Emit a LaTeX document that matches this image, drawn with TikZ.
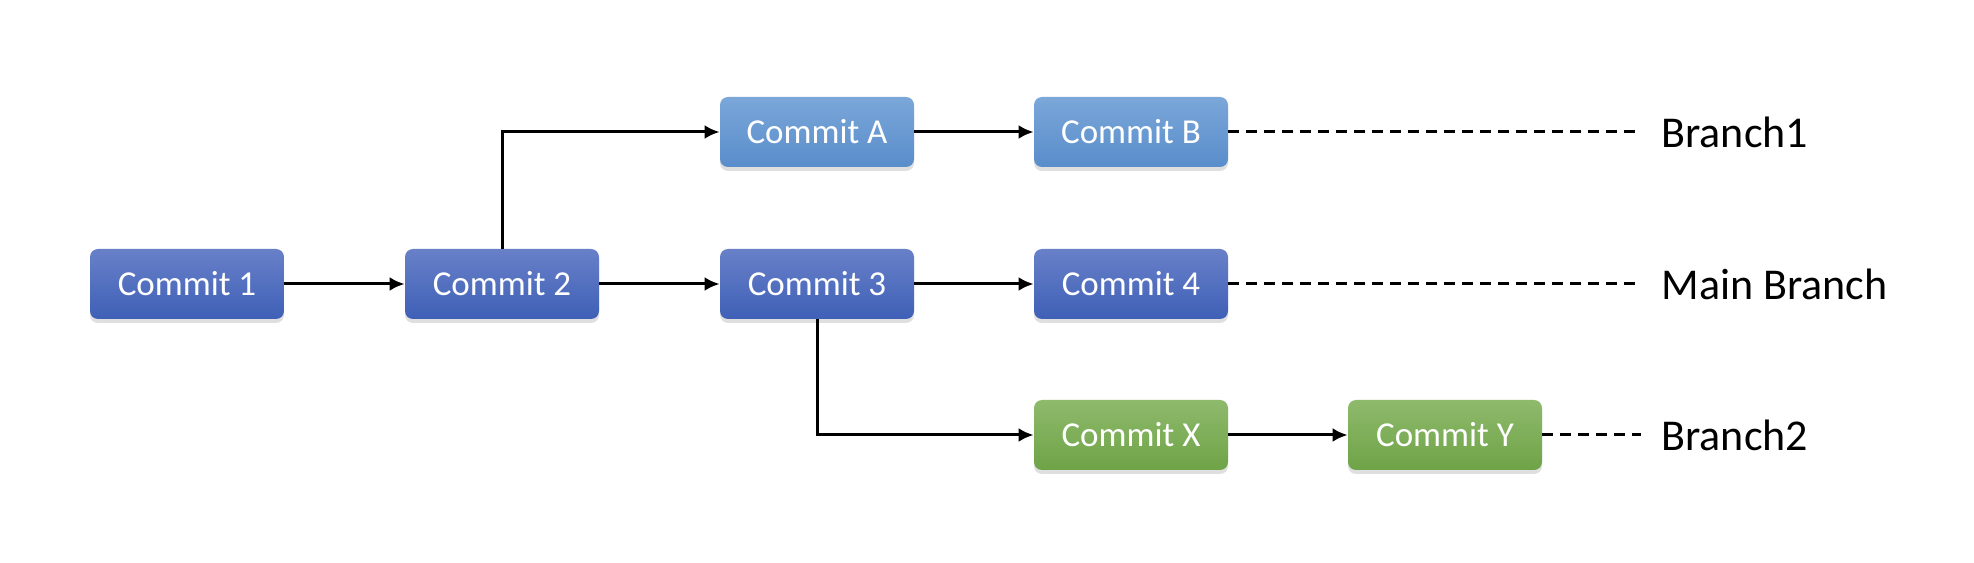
\documentclass[tikz,border=0pt]{standalone}
\usepackage{fontspec}
\setmainfont{Carlito}
\usetikzlibrary{shadows,arrows.meta}
\definecolor{maintop}{RGB}{104,128,200}
\definecolor{mainbot}{RGB}{63,96,183}
\definecolor{bonetop}{RGB}{123,167,217}
\definecolor{bonebot}{RGB}{89,141,203}
\definecolor{btwotop}{RGB}{142,186,108}
\definecolor{btwobot}{RGB}{111,163,71}
\newcommand\mylabel[1]{%
  \fontsize{22}{26}\selectfont%
  #1
}

\begin{document}
\begin{tikzpicture}[x=0.5pt,y=0.5pt]
  \useasboundingbox (0,0) rectangle (1974,562);

  \tikzstyle{commit}=[rounded corners=4pt,minimum width=97pt,minimum height=35pt,inner sep=0pt,text=white,font=\fontsize{17.5}{21}\selectfont,drop shadow={shadow xshift=0pt,shadow yshift=-2pt,opacity=0.25}]
  \tikzstyle{mcommit}=[commit,top color=maintop,bottom color=mainbot]
  \tikzstyle{bcommit}=[commit,top color=bonetop,bottom color=bonebot]
  \tikzstyle{gcommit}=[commit,top color=btwotop,bottom color=btwobot]
  \tikzstyle{link}=[draw,line width=1.5pt,-{Latex[length=7.5pt,width=7pt]}]
  \tikzstyle{tail}=[draw,line width=1.5pt,dash pattern=on 5.5pt off 3.5pt]

  \def \rowa{430}
  \def \rowb{278}
  \def \rowc{127}

  \foreach \name/\x/\text in {c1/187/1, c2/502/2, c3/817/3, c4/1131/4}
    \node[mcommit] (\name) at (\x,\rowb) {Commit \text};
  \foreach \name/\x/\text in {ca/817/A, cb/1131/B}
    \node[bcommit] (\name) at (\x,\rowa) {Commit \text};
  \foreach \name/\x/\text in {cx/1131/X, cy/1445/Y}
    \node[gcommit] (\name) at (\x,\rowc) {Commit \text};

  \node[anchor=west,inner sep=0pt] (b1) at (1661,\rowa) {\mylabel{Branch1}};
  \node[anchor=west,inner sep=0pt] (bm) at (1661,\rowb) {\mylabel{Main Branch}};
  \node[anchor=west,inner sep=0pt] (b2) at (1661,\rowc) {\mylabel{Branch2}};

  \foreach \from/\to in {c1/c2,c2/c3,c3/c4,ca/cb,cx/cy}
    \path[link] (\from) -- (\to);
  \path[link] (c2.north) |- (ca.west);
  \path[link] (c3.south) |- (cx.west);

  \path[tail] (cb.east) -- ([xshift=-10pt]b1.west);
  \path[tail] (c4.east) -- ([xshift=-10pt]bm.west);
  \path[tail] (cy.east) -- ([xshift=-10pt]b2.west);
\end{tikzpicture}
\end{document}
